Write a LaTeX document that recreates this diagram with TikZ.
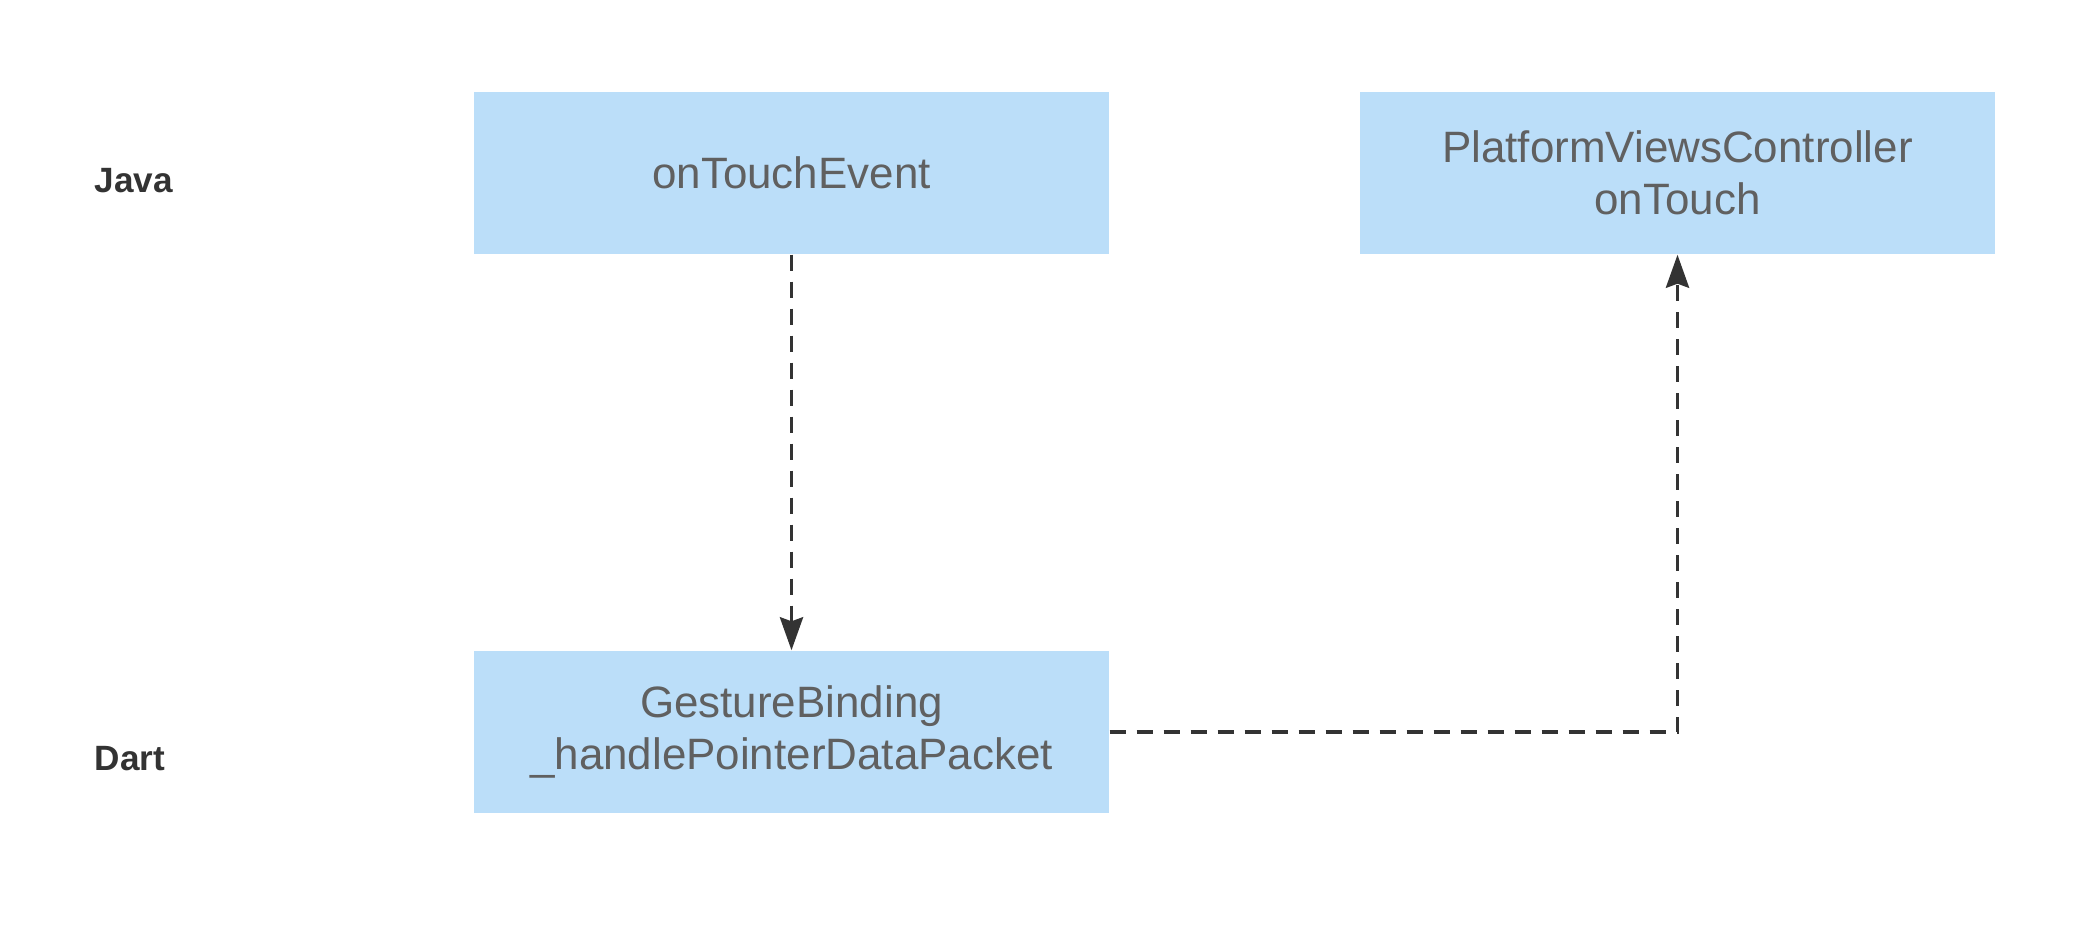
\documentclass[tikz,border=0pt]{standalone}
\usepackage{fontspec}
\setmainfont{Liberation Sans}
\usepackage{tikz}
\usetikzlibrary{arrows.meta,positioning}
\usepackage{xcolor}
\definecolor{gblue}{RGB}{187,222,249}
\definecolor{gtext}{RGB}{96,96,96}
\definecolor{gdark}{RGB}{51,51,51}
\tikzstyle{process} = [rectangle, minimum width=6.35cm, minimum height=1.62cm, align=center, fill=gblue, text=gtext, font=\fontsize{12.5}{14.8}\selectfont, inner sep=0pt]
\tikzstyle{layer} = [anchor=west, text=gdark, font=\fontsize{10}{12}\selectfont\bfseries, inner sep=0pt]
\tikzstyle{arrow} = [line width=1.1pt, ->, >={Stealth[length=3.3mm,width=2.3mm,inset=0.4mm]}, color=gdark, dash pattern=on 0.16cm off 0.11cm]

\begin{document}
\begin{tikzpicture}
\useasboundingbox (0,0) rectangle (21,-9.35);
\node[layer] (java) at (0.94,-1.81) {Java};
\node[layer] (dart) at (0.94,-7.59) {Dart};
\node[process] (touch) at (7.915,-1.73) {onTouchEvent};
\node[process] (pvc) at (16.775,-1.73) {PlatformViewsController\\onTouch};
\node[process] (gesture) at (7.915,-7.32) {GestureBinding\\\_handlePointerDataPacket};
\draw[arrow] (touch) -- (gesture);
\draw[arrow] (gesture) -| (pvc);
\end{tikzpicture}
\end{document}
